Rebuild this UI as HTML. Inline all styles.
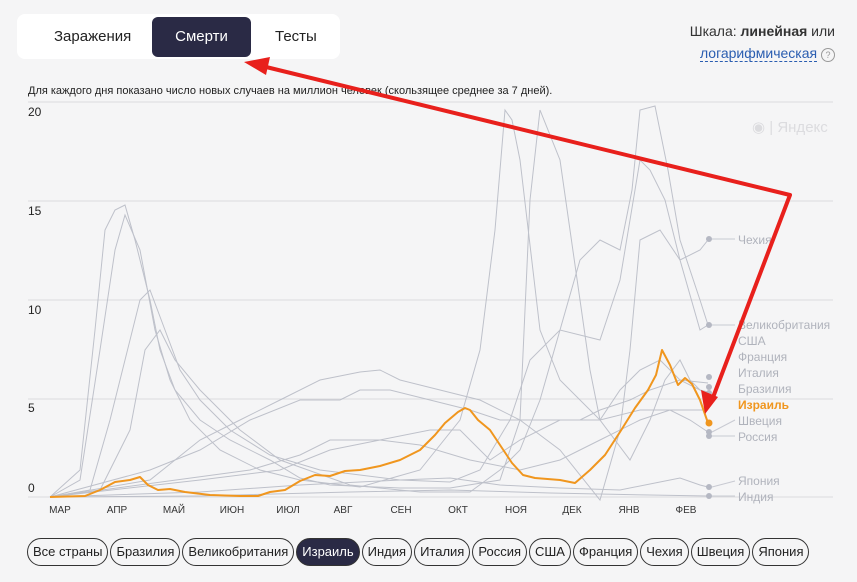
<!DOCTYPE html>
<html><head><meta charset="utf-8"><style>
body{margin:0;width:857px;height:582px;background:#f5f5f6;font-family:"Liberation Sans",sans-serif;overflow:hidden;position:relative}
.tabs{position:absolute;left:17px;top:14px;width:323px;height:45px;background:#fff;border-radius:8px}
.tab{position:absolute;top:3px;height:40px;line-height:40px;font-size:15px;color:#222}
.sel{background:#2a2a45;color:#fff;border-radius:6px;text-align:center}
.scale{position:absolute;right:22px;top:20px;font-size:14px;color:#333;text-align:right;line-height:22px}
.note{position:absolute;left:28px;top:85px;font-size:11px;color:#222}
.pills{position:absolute;left:27px;top:538px;font-size:13px;color:#222}
.pill{display:inline-block;border:1px solid #333;border-radius:14px;height:26px;line-height:26px;padding:0 5px;margin-right:2px}
</style></head><body>
<div class="tabs">
<div class="tab" style="left:37px">Заражения</div>
<div class="tab sel" style="left:135px;width:99px">Смерти</div>
<div class="tab" style="left:258px">Тесты</div>
</div>
<div class="scale">Шкала: <b>линейная</b> или<br><span style="color:#2a5db0;border-bottom:1px dashed #2a5db0">логарифмическая</span> <span style="display:inline-block;width:12px;height:12px;border:1px solid #999;border-radius:50%;font-size:9px;line-height:12px;text-align:center;color:#999">?</span></div>
<div class="note">Для каждого дня показано число новых случаев на миллион человек (скользящее среднее за 7 дней).</div>
<svg width="857" height="582" style="position:absolute;left:0;top:0" font-family="Liberation Sans">
<g stroke="#dcdcdf" stroke-width="1">
<line x1="28" y1="102" x2="833" y2="102"/><line x1="28" y1="201" x2="833" y2="201"/><line x1="28" y1="300" x2="833" y2="300"/><line x1="28" y1="399" x2="833" y2="399"/><line x1="28" y1="497" x2="833" y2="497"/>
</g>
<g font-size="12" fill="#222"><text x="28" y="116">20</text><text x="28" y="215">15</text><text x="28" y="314">10</text><text x="28" y="412">5</text><text x="28" y="492">0</text></g>
<text x="752" y="132" font-size="15" fill="#dcdcdf">◉ | Яндекс</text>
<g fill="none" stroke="#b5b8c3" stroke-width="1" opacity="0.85">
<polyline points="50,497 80,470 95,330 105,230 115,210 125,205 135,240 150,300 160,350 175,390 200,420 230,440 270,460 300,478 330,485 400,488 450,488 500,480 520,420 530,200 540,110 560,160 590,370 600,420 630,460 650,420 665,380 680,360 690,380 700,390 708,395"/>
<polyline points="50,497 80,480 100,350 115,250 125,215 140,250 155,330 170,380 190,420 220,450 260,470 300,480 360,487 420,470 460,420 480,350 495,230 505,110 512,120 520,160 540,330 560,380 600,420 620,390 640,370 660,360 680,380 700,390 708,392"/>
<polyline points="50,497 90,490 110,420 125,360 140,300 150,290 165,330 180,370 200,400 230,430 270,455 320,470 400,480 450,482 480,470 510,420 530,360 560,330 600,340 620,280 640,160 650,170 665,200 680,260 700,330 708,325"/>
<polyline points="50,497 100,490 130,430 145,350 160,330 175,360 200,390 240,430 280,460 350,485 420,492 470,492 500,470 520,450 540,400 560,330 580,260 600,240 620,250 632,190 640,110 655,106 668,170 680,240 700,300 708,325"/>
<polyline points="50,497 150,480 200,440 240,420 280,400 320,380 360,372 380,370 400,380 440,390 480,400 520,420 560,450 600,500 620,430 630,350 640,240 650,235 660,230 680,260 700,250 708,240"/>
<polyline points="50,497 150,470 200,450 250,420 300,400 340,400 360,390 390,390 430,400 470,410 500,420 540,420 580,420 600,410 630,400 650,390 680,380 708,383"/>
<polyline points="50,497 200,480 280,470 330,450 380,440 430,430 460,430 490,460 520,440 560,420 600,420 640,410 670,410 690,420 708,432"/>
<polyline points="50,497 200,492 300,485 400,480 450,478 500,485 560,488 620,490 660,482 680,478 700,485 708,487"/>
<polyline points="50,497 200,496 350,492 450,490 550,493 650,495 708,496"/>
<polyline points="50,497 250,470 300,455 330,440 380,440 420,445 470,460 520,470 560,460 600,440 640,420 670,410 708,410"/>
</g>
<polyline fill="none" stroke="#f0961e" stroke-width="2" stroke-linejoin="round" points="50,497 85,496 100,490 115,482 130,480 140,477 148,485 158,490 170,489 185,492 210,495 240,496 258,496 270,492 285,490 300,481 315,475 330,476 345,471 360,470 380,466 400,460 420,450 435,435 445,423 458,412 465,408 470,410 478,420 490,430 500,445 512,463 523,475 535,478 560,480 575,483 590,470 605,455 620,432 635,408 648,390 656,375 662,350 670,365 678,385 685,378 692,384 700,400 708,423"/>
<g fill="#b5b8c3"><circle cx="709" cy="239" r="3"/><circle cx="709" cy="325" r="3"/><circle cx="709" cy="377" r="3"/><circle cx="709" cy="387" r="3"/><circle cx="709" cy="393" r="3"/><circle cx="709" cy="432" r="3"/><circle cx="709" cy="436" r="3"/><circle cx="709" cy="487" r="3"/><circle cx="709" cy="496" r="3"/></g>
<circle cx="709" cy="423" r="3.5" fill="#f0961e"/>
<g stroke="#c8cad2" stroke-width="1"><line x1="712" y1="239" x2="735" y2="239"/><line x1="712" y1="325" x2="735" y2="325"/><line x1="712" y1="432" x2="735" y2="420"/><line x1="712" y1="436" x2="735" y2="436"/><line x1="712" y1="487" x2="735" y2="481"/><line x1="712" y1="496" x2="735" y2="496"/></g>
<g font-size="12" fill="#b0b3bc"><text x="738" y="244">Чехия</text><text x="738" y="329">Великобритания</text><text x="738" y="345">США</text><text x="738" y="361">Франция</text><text x="738" y="377">Италия</text><text x="738" y="393">Бразилия</text><text x="738" y="425">Швеция</text><text x="738" y="441">Россия</text><text x="738" y="485">Япония</text><text x="738" y="501">Индия</text></g>
<text x="738" y="409" font-size="12" font-weight="bold" fill="#f0961e">Израиль</text>
<g font-size="10" fill="#333" text-anchor="middle"><text x="60" y="513">МАР</text><text x="117" y="513">АПР</text><text x="174" y="513">МАЙ</text><text x="232" y="513">ИЮН</text><text x="288" y="513">ИЮЛ</text><text x="343" y="513">АВГ</text><text x="401" y="513">СЕН</text><text x="458" y="513">ОКТ</text><text x="516" y="513">НОЯ</text><text x="572" y="513">ДЕК</text><text x="629" y="513">ЯНВ</text><text x="686" y="513">ФЕВ</text></g>
<g stroke="#e8201c" stroke-width="4" fill="none" stroke-linejoin="round"><polyline points="262,66 790,195 712,400"/></g>
<polygon points="244,62 270,57 266,75" fill="#e8201c"/>
<polygon points="705,414 701,390 718,397" fill="#e8201c"/>
</svg>
<div class="pills"><span class="pill">Все страны</span><span class="pill">Бразилия</span><span class="pill">Великобритания</span><span class="pill" style="background:#2a2a45;color:#fff">Израиль</span><span class="pill">Индия</span><span class="pill">Италия</span><span class="pill">Россия</span><span class="pill">США</span><span class="pill">Франция</span><span class="pill">Чехия</span><span class="pill">Швеция</span><span class="pill">Япония</span></div>
</body></html>
